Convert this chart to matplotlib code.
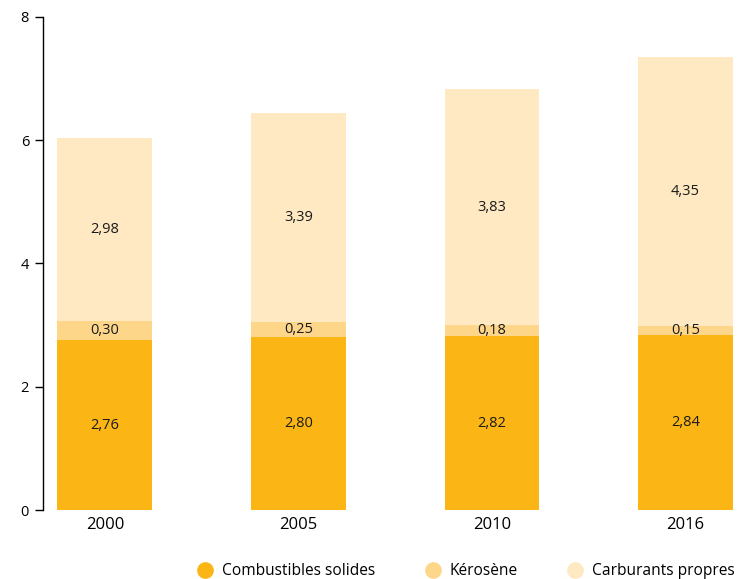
import numpy as np
import matplotlib.pyplot as plt
from matplotlib.lines import Line2D

years = ["2000", "2005", "2010", "2016"]
solides = [2.76, 2.80, 2.82, 2.84]
kerosene = [0.30, 0.25, 0.18, 0.15]
carburants = [2.98, 3.39, 3.83, 4.35]

series = [
    ("Combustibles solides", solides, "#FBB616"),
    ("Kérosène", kerosene, "#FDD68A"),
    ("Carburants propres", carburants, "#FEE9C3"),
]

plt.rcParams["font.family"] = ["Open Sans", "DejaVu Sans"]

fig = plt.figure(figsize=(7.53, 5.79), dpi=100)
ax = fig.add_axes([0.057, 0.119, 0.933, 0.852])

x = np.arange(len(years))
bottom = np.zeros(len(years))
for name, vals, color in series:
    vals = np.array(vals)
    ax.bar(x, vals, 0.49, bottom=bottom, color=color, label=name)
    for xi, b, v in zip(x, bottom, vals):
        ax.text(xi, b + v / 2, f"{v:.2f}".replace(".", ","),
                ha="center", va="center", fontsize=10.5, color="#1a1a1a")
    bottom += vals

ax.set_xlim(-0.32, 3.31)
ax.set_ylim(0, 8)
ax.set_yticks([0, 2, 4, 6, 8])
ax.set_xticks(x)
ax.set_xticklabels(years)
ax.tick_params(axis="y", length=6, width=1, labelsize=10.5, pad=4)
ax.tick_params(axis="x", length=0, labelsize=12, pad=5)
for s in ["top", "right", "bottom"]:
    ax.spines[s].set_visible(False)
ax.spines["left"].set_linewidth(1)

handles = [Line2D([], [], marker="o", linestyle="", markersize=11,
                  markerfacecolor=c, markeredgecolor=c) for _, _, c in series]
fig.legend(handles, [n for n, _, _ in series], loc="lower right",
           bbox_to_anchor=(0.995, -0.025), ncol=3, frameon=False, fontsize=11.2,
           handletextpad=0.1, columnspacing=2.7)

fig.savefig("out.png", dpi=100)
